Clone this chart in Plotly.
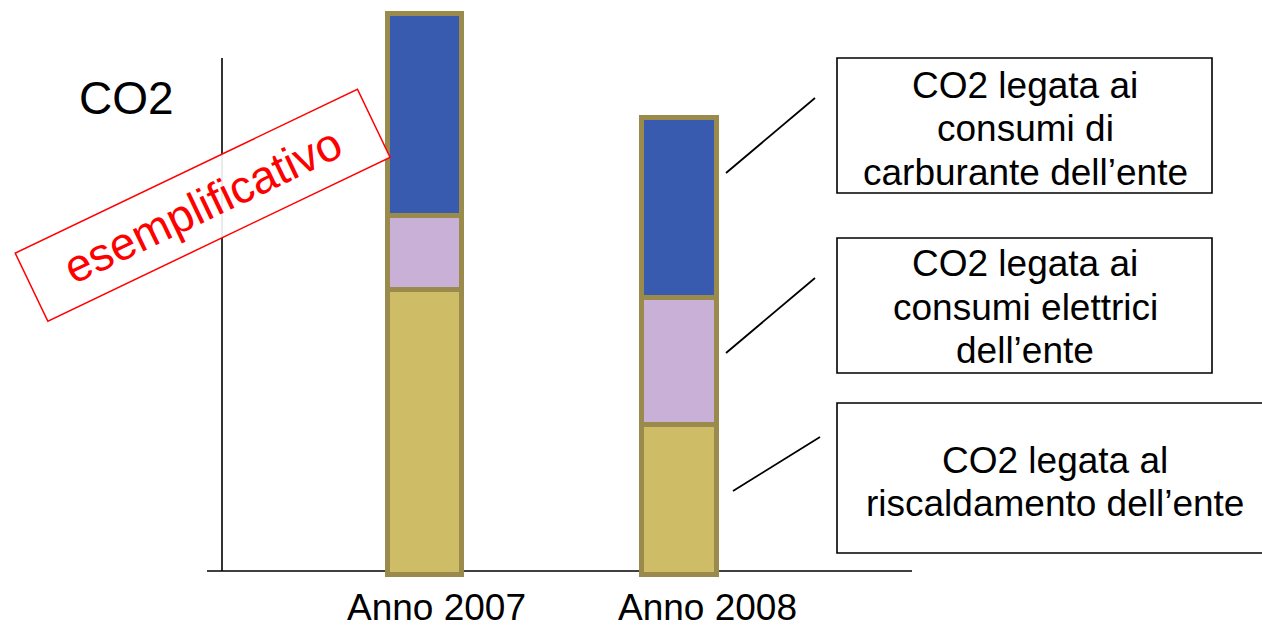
import plotly.graph_objects as go

# ---- data (arbitrary CO2 units, illustrative chart) ----
categories = ["Anno 2007", "Anno 2008"]
riscaldamento = [285, 150]   # CO2 legata al riscaldamento dell'ente
elettrici = [74, 127]        # CO2 legata ai consumi elettrici dell'ente
carburante = [202, 180]      # CO2 legata ai consumi di carburante dell'ente

series_names = [
    "CO2 legata al riscaldamento dell’ente",
    "CO2 legata ai consumi elettrici dell’ente",
    "CO2 legata ai consumi di carburante dell’ente",
]
box_lines = [
    ["CO2 legata ai", "consumi di", "carburante dell’ente"],
    ["CO2 legata ai", "consumi elettrici", "dell’ente"],
    ["CO2 legata al", "riscaldamento dell’ente"],
]

# ---- styling ----
FONT = "Arial, Liberation Sans, sans-serif"
C_GOLD = "#CFBC66"
C_LILAC = "#C8B0D6"
C_BLUE = "#385BAF"
C_EDGE = "#9A8A4C"

W, H = 1262, 631
ML, MR, MT, MB = 207, 350, 0, 51
PW, PH = W - ML - MR, H - MT - MB


def px(xp):
    return (xp - ML) / PW


def py(yp):
    return (H - MB - yp) / PH


fig = go.Figure()
for vals, name, col in [(riscaldamento, series_names[0], C_GOLD),
                        (elettrici, series_names[1], C_LILAC),
                        (carburante, series_names[2], C_BLUE)]:
    fig.add_trace(go.Bar(
        x=categories, y=vals, name=name, width=0.294,
        marker=dict(color=col, line=dict(color=C_EDGE, width=5)),
        hoverinfo="x+y+name",
    ))

shapes = []
# axis lines (drawn below the bars)
shapes.append(dict(type="line", xref="paper", yref="paper",
                   x0=px(222), x1=px(222), y0=py(58), y1=py(571),
                   line=dict(color="black", width=1.6), layer="below"))
shapes.append(dict(type="line", xref="paper", yref="paper",
                   x0=px(207), x1=px(912), y0=py(571), y1=py(571),
                   line=dict(color="black", width=1.6), layer="below"))

# description boxes and leader lines
boxes = [(837, 1212, 58, 193), (837, 1212, 238, 373), (837, 1275, 403, 553)]
leaders = [((726, 173), (815, 98)), ((726, 353), (815, 278)), ((733, 491), (820, 437))]
for (x0, x1, y0, y1) in boxes:
    shapes.append(dict(type="rect", xref="paper", yref="paper",
                       x0=px(x0), x1=px(x1), y0=py(y0), y1=py(y1),
                       line=dict(color="black", width=1.6), fillcolor="white"))
for (a, b) in leaders:
    shapes.append(dict(type="line", xref="paper", yref="paper",
                       x0=px(a[0]), y0=py(a[1]), x1=px(b[0]), y1=py(b[1]),
                       line=dict(color="black", width=1.8)))

annotations = []
line_y = [[85, 129, 172], [263, 307, 350], [460, 503]]
line_x = [1025, 1025, 1055]
for lines, ys, xc in zip(box_lines, line_y, line_x):
    for t, yy in zip(lines, ys):
        annotations.append(dict(text=t, xref="paper", yref="paper",
                                x=px(xc), y=py(yy), xanchor="center", yanchor="middle",
                                showarrow=False, font=dict(family=FONT, size=37, color="black")))

# category labels (placed as in the original slide)
cat_label_x = [436, 707]
for cat, xc in zip(categories, cat_label_x):
    annotations.append(dict(text=cat, xref="paper", yref="paper",
                            x=px(xc), y=py(630), xanchor="center", yanchor="bottom",
                            showarrow=False, font=dict(family=FONT, size=37, color="black")))

annotations.append(dict(text="CO2", xref="paper", yref="paper",
                        x=px(126), y=py(98), xanchor="center", yanchor="middle",
                        showarrow=False, font=dict(family=FONT, size=46, color="black")))

annotations.append(dict(text="esemplificativo", xref="paper", yref="paper",
                        x=px(202), y=py(205), xanchor="center", yanchor="middle",
                        showarrow=False, textangle=-25.6,
                        width=378, height=74, borderpad=0,
                        bordercolor="#FF0000", borderwidth=1.5, bgcolor="rgba(255,255,255,0.9)",
                        font=dict(family=FONT, size=46, color="#FF0000")))

fig.update_layout(
    width=W, height=H,
    margin=dict(l=ML, r=MR, t=MT, b=MB, pad=0),
    barmode="stack", showlegend=False, bargap=0,
    plot_bgcolor="white", paper_bgcolor="white",
    font=dict(family=FONT, color="black"),
    shapes=shapes, annotations=annotations,
    xaxis=dict(type="category", range=[-0.855, 1.91], showgrid=False, zeroline=False,
               showline=False, ticks="", showticklabels=False, fixedrange=True),
    yaxis=dict(range=[-5.5, 574.5], showgrid=False, zeroline=False, showline=False,
               showticklabels=False, ticks="", fixedrange=True),
)

fig.write_html(
    "out.html",
    config={"displayModeBar": False},
    post_script="document.body.style.margin='0px';document.body.style.overflow='hidden';",
)
